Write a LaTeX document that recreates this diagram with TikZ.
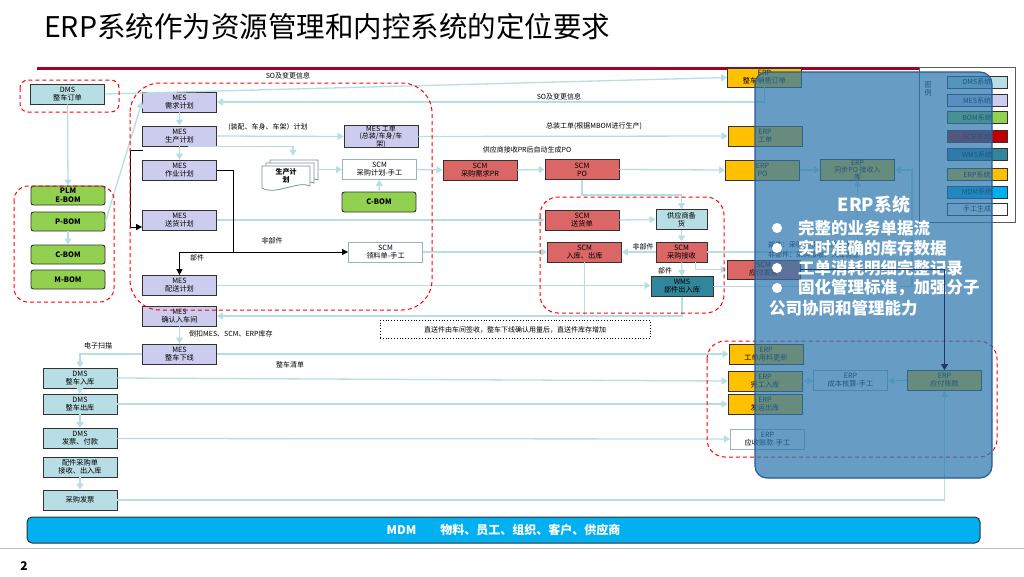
\documentclass[tikz,border=0pt]{standalone}
\usepackage{fontspec}
\setmainfont{Noto Sans CJK SC}
\usetikzlibrary{arrows.meta}
\definecolor{dmsc}{RGB}{183,222,228}
\definecolor{mesc}{RGB}{204,204,238}
\definecolor{bomc}{RGB}{146,208,80}
\definecolor{scmc}{RGB}{218,102,102}
\definecolor{scmkey}{RGB}{192,0,0}
\definecolor{wmsc}{RGB}{49,134,155}
\definecolor{erpc}{RGB}{255,192,0}
\definecolor{mdmc}{RGB}{0,176,240}
\definecolor{flowc}{RGB}{183,222,228}
\definecolor{boxline}{RGB}{50,50,50}
\definecolor{handline}{RGB}{150,180,185}
\definecolor{ovl}{RGB}{45,120,175}
\definecolor{ovlline}{RGB}{40,90,150}
\definecolor{navyline}{RGB}{31,56,100}
\definecolor{titlered}{RGB}{165,0,33}
\begin{document}
\begin{tikzpicture}[x=1pt,y=-1pt,
  bx/.style={draw=boxline,line width=0.9pt,inner sep=0pt,align=center,minimum width=74pt,minimum height=20pt,font=\fontsize{7.2}{8}\selectfont},
  dms/.style={bx,fill=dmsc},
  mes/.style={bx,fill=mesc},
  bom/.style={bx,fill=bomc,rounded corners=2.5pt,font=\fontsize{7.5}{8.5}\selectfont\bfseries},
  scm/.style={bx,fill=scmc},
  wms/.style={bx,fill=wmsc},
  erp/.style={bx,fill=erpc},
  hand/.style={bx,fill=white,draw=handline},
  flow/.style={draw=flowc,line width=1.3pt,-{Triangle[length=6pt,width=7pt]}},
  blk/.style={draw=black,line width=1pt,-{Triangle[length=6pt,width=6pt]}},
  zone/.style={draw=red,line width=1pt,dash pattern=on 4pt off 3pt},
  lbl/.style={inner sep=0pt,font=\fontsize{7}{8}\selectfont},
  legkey/.style={draw=boxline,line width=0.8pt,inner sep=0pt,minimum width=60pt,minimum height=12pt,font=\fontsize{7}{8}\selectfont}]
\fill[white] (0,0) rectangle (1024,576);
\useasboundingbox (0,0) rectangle (1024,576);

\node[anchor=west,inner sep=0pt,font=\fontsize{28.5}{30}\selectfont] (title) at (44,27) {ERP系统作为资源管理和内控系统的定位要求};
\draw[titlered,line width=3pt] (37,68) -- (1010,68);
\draw[gray!50,line width=0.6pt] (0,548) -- (1024,548);
\node[font=\fontsize{12}{14}\selectfont\bfseries] (pg) at (24,566) {2};

\foreach \d in {8,4,0}{
\begin{scope}[shift={(\d,{-0.75*\d})}]
\draw[draw=handline!80!black,fill=white,line width=0.8pt] (262,166) -- (310,166) -- (310,186) .. controls (298,180) and (276,196) .. (262,188) -- cycle;
\end{scope}
}
\node[inner sep=0pt,minimum width=64pt,minimum height=40pt,align=center,font=\fontsize{7}{8}\selectfont\bfseries] (plandoc) at (286,176) {生产计\\划};

\node[dms] (dmsord) at (67.5,94) {DMS\\整车订单};
\node[bom,minimum height=19pt] (ebom) at (68,195.5) {PLM\\E-BOM};
\node[bom,minimum height=19pt] (pbom) at (68,221.5) {P-BOM};
\node[bom,minimum height=19pt] (cbom) at (68,254.5) {C-BOM};
\node[bom,minimum height=19pt] (mbom) at (68,279.5) {M-BOM};

\node[mes] (mesreq) at (179.5,102) {MES\\需求计划};
\node[mes] (mesprod) at (179.5,136) {MES\\生产计划};
\node[mes] (meswork) at (179.5,170) {MES\\作业计划};
\node[mes] (mesdel) at (179.5,220) {MES\\送货计划};
\node[mes] (mesdist) at (179.5,285.5) {MES\\配送计划};
\node[mes] (mesconf) at (179.5,316) {MES\\确认入车间};
\node[mes] (mesoff) at (179.5,354) {MES\\整车下线};

\node[dms] (dmsin) at (80,378) {DMS\\整车入库};
\node[dms] (dmsout) at (80,404) {DMS\\整车出库};
\node[dms] (dmsinv) at (80,438.5) {DMS\\发票、付款};
\node[dms] (partpo) at (80,467) {配件采购单\\接收、出入库};
\node[dms] (purinv) at (80,500) {采购发票};

\node[mes,minimum height=21pt,font=\fontsize{7}{7.5}\selectfont] (mesord) at (381,136.5) {MES 工单\\(总装/车身/车\\架)};
\node[hand] (scmplan) at (379.5,169.5) {SCM\\采购计划-手工};
\node[bom] (cbomb) at (379,202) {C-BOM};
\node[hand] (scmpick) at (385.5,252) {SCM\\领料单-手工};
\node[scm] (scmpr) at (480,170) {SCM\\采购需求PR};
\node[scm] (scmpo) at (582,169.5) {SCM\\PO};
\node[scm] (scmdeliv) at (582,220) {SCM\\送货单};
\node[dms,minimum width=51pt] (supstock) at (681.5,219.5) {供应商备\\货};
\node[scm] (scmstore) at (584.5,252) {SCM\\入库、出库};
\node[scm,minimum width=51pt] (scmrecv) at (681.5,252) {SCM\\采购接收};
\node[wms,minimum width=62pt] (wmsio) at (682,286.5) {WMS\\部件出入库};
\node[scm,minimum width=73pt,minimum height=19pt] (scminv) at (763.5,269.5) {SCM\\应付发票};

\node[erp,minimum height=19pt] (erpso) at (764.5,77.5) {ERP\\整车销售订单};
\node[erp] (erpwo) at (765,136) {ERP\\工单};
\node[erp] (erppo) at (762.5,170) {ERP\\PO};
\node[erp,font=\fontsize{7}{7.2}\selectfont] (erpsync) at (857.5,170) {ERP\\同步PO 接收入\\库};
\node[erp] (erpmat) at (766,354) {ERP\\工单用料更新};
\node[erp] (erpfin) at (765,381) {ERP\\完工入库};
\node[erp] (erpship) at (765,404) {ERP\\发运出库};
\node[hand] (erpar) at (767.5,439) {ERP\\应收账款-手工};
\node[hand] (erpcost) at (850.5,380.5) {ERP\\成本核算-手工};
\node[erp] (erpap) at (944.5,380.5) {ERP\\应付账款};

\node[draw=boxline,fill=mdmc,rounded corners=5pt,line width=1pt,minimum width=953pt,minimum height=26pt,inner sep=0pt,text=white,font=\fontsize{12}{14}\selectfont\bfseries] (mdm) at (503.5,530) {MDM\hspace{24pt}物料、员工、组织、客户、供应商};

\draw[flow] (dmsord.south) -- (ebom.north);
\draw[flow] (pbom.east) -- (mesreq.west);
\draw[flow] (pbom.south) -- (cbom.north);
\draw[flow] (dmsord.east) -- (erpso.west);
\draw[flow] (erpso.south) |- (mesreq.east);
\draw[flow] (mesreq.south) -- (mesprod.north);
\draw[flow] (mesprod.south) -- (meswork.north);
\draw[flow] (mesprod.east) -- (mesord.west);
\draw[flow] ([xshift=8pt]mesprod.south) -| ([xshift=7pt]plandoc.north);
\draw[flow] (plandoc.east |- scmplan.west) -- (scmplan.west);
\draw[flow] (cbomb.north) -- (scmplan.south);
\draw[flow] (scmplan.east) -- (scmpr.west);
\draw[flow] (scmpr.east) -- (scmpo.west);
\draw[flow] (scmpo.east) -- (erppo.west);
\draw[flow] (mesord.east) -- (erpwo.west);
\draw[flow] (erppo.east) -- (erpsync.west);
\draw[flow] (scmpo.south) -- ++(0,15) -| (supstock.north);
\draw[flow] (mesdel.east) -- (scmdeliv.west);
\draw[flow] (scmdeliv.east) -- (supstock.west);
\draw[flow] (supstock.south) -- (scmrecv.north);
\draw[flow] (scmrecv.west) -- (scmstore.east);
\draw[flow] (scmrecv.south) -- (wmsio.north);
\draw[flow] ([xshift=14pt]scmrecv.south) |- (scminv.west);
\draw[flow] (scmpick.east) -- (scmstore.west);
\draw[flow] (mesdist.east) -- (mesdist.east -| wmsio.west);
\draw[flow] (scmstore.south) |- (mesconf.east);
\draw[draw=flowc,line width=1.3pt] (wmsio.south) |- (scmstore.south |- mesconf.east);
\draw[flow] (mesconf.south) -- (mesoff.north);
\draw[flow] (mesoff.east) -- (erpmat.west);
\draw[flow] (mesoff.west) -| (dmsin.north);
\draw[flow] (dmsin.south) -- (dmsout.north);
\draw[flow] (dmsout.south) -- (dmsinv.north);
\draw[flow] (partpo.south) -- (purinv.north);
\draw[flow] (dmsin.east) -- (erpfin.west);
\draw[flow] (dmsout.east) -- (erpship.west);
\draw[flow] (dmsinv.east) -- (erpar.west);
\draw[flow] (purinv.east) -| (erpap.south);
\draw[flow] (erpfin.east) -- (erpcost.west);
\draw[flow] (erpap.west) -- (erpcost.east);
\draw[flow] (scmrecv.east) -| (erpsync.south);
\draw[flow] (wmsio.east) -| ([xshift=17pt]erpsync.east) -- (erpsync.east);

\coordinate (bk) at (233,252);
\coordinate (bs) at (143,150);
\draw[blk] (meswork.east) -| (bk) -- (scmpick.west);
\draw[blk] (bk) -| (mesdist.north);
\draw[blk] (bs) -- ++(-13,0) |- ([yshift=-7pt]mesdel.west);

\draw[zone,rounded corners=8pt] (20,80) rectangle (119,112);
\draw[zone,rounded corners=14pt] (14,186) rectangle (114,302);
\draw[zone,rounded corners=30pt] (130,83) rectangle (432,310);
\draw[zone,rounded corners=18pt] (540,197) rectangle (724,313);
\draw[zone,rounded corners=18pt] (707,341) rectangle (997,457);

\node[lbl,draw,dotted,line width=0.8pt,minimum width=270pt,minimum height=18pt] (note) at (515,329.5) {直送件由车间签收，整车下线确认用量后，直送件库存增加};
\node[lbl] (so1) at (288,76) {SO及变更信息};
\node[lbl] (so2) at (559,97) {SO及变更信息};
\node[lbl] (plantype) at (268,127) {(装配、车身、车架）计划};
\node[lbl] (mbomnote) at (594,126) {总装工单(根据MBOM进行生产)};
\node[lbl] (prnote) at (527,150) {供应商接收PR后自动生成PO};
\node[lbl] (nonpart) at (272,241) {非部件};
\node[lbl] (part) at (197,258) {部件};
\node[lbl] (scan) at (98,346) {电子扫描};
\node[lbl,anchor=west] (backflush) at (189,334) {倒扣MES、SCM、ERP库存};
\node[lbl] (carlist) at (290,365) {整车清单};
\node[lbl] (nonpart2) at (643,247) {非部件};
\node[lbl] (part2) at (665,271) {部件};
\node[lbl,anchor=west] (rcv1) at (768,245) {部件：采购接收、入库信息};
\node[lbl,anchor=west] (rcv2) at (768,255) {非部件：采购接收、入库信息};

\draw[draw=boxline!80,fill=white,line width=0.8pt] (919,67) rectangle (1015,222);
\node[lbl,align=center] (legtitle) at (928,89) {图\\例};
\foreach \t/\c/\y [count=\i] in {DMS系统/dmsc/82,MES系统/mesc/100.5,BOM系统/bomc/117.5,SCM系统/scmkey/136.5,WMS系统/wmsc/154.5,ERP系统/erpc/174.5,MDM系统/mdmc/192,手工生成/white/209}
  \node[legkey,fill=\c] (key\i) at (977,\y) {\t};

\draw[fill=ovl,fill opacity=0.72,draw=ovlline,line width=1.2pt,rounded corners=12pt] (755,72) rectangle (992,478);

\node[text=white,font=\fontsize{18}{20}\selectfont\bfseries] (erptitle) at (874,205) {ERP系统};
\foreach \t/\y [count=\i] in {完整的业务单据流/228,实时准确的库存数据/248,工单消耗明细完整记录/268,固化管理标准，加强分子/288}{
  \node[circle,fill=white,inner sep=0pt,minimum size=10pt] (dot\i) at (777,\y) {};
  \node[text=white,anchor=west,inner sep=0pt,font=\fontsize{16.5}{18}\selectfont\bfseries] (pt\i) at (798,\y) {\t};
}
\node[text=white,anchor=west,inner sep=0pt,font=\fontsize{16.5}{18}\selectfont\bfseries] (pt5) at (769,308) {公司协同和管理能力};

\draw[flow,draw=navyline] (scminv.east) -| (erpap.north);
\end{tikzpicture}
\end{document}
